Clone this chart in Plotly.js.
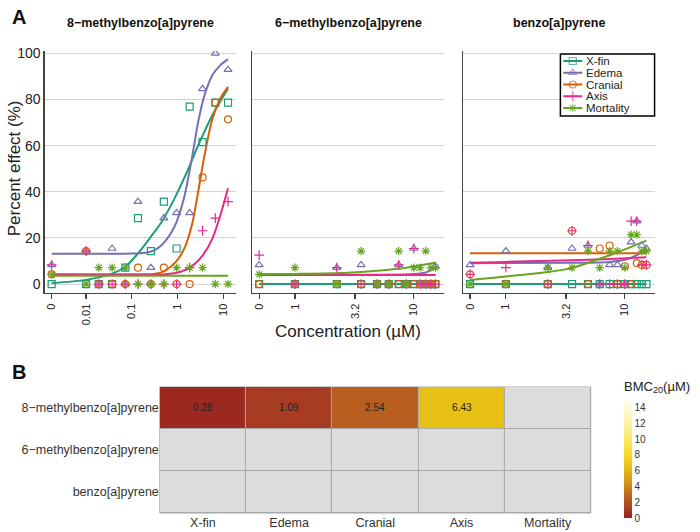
<!DOCTYPE html>
<html>
<head>
<meta charset="utf-8">
<script src="https://cdn.plot.ly/plotly-3.0.1.min.js"></script>
<style>html,body{margin:0;padding:0;background:#fff}#chart{width:700px;height:532px}</style>
</head>
<body>
<div id="chart"></div>
<script>
// ---- Endpoints and compounds ----
const endpoints = ['X-fin', 'Edema', 'Cranial', 'Axis', 'Mortality'];
const compounds = ['8\u2212methylbenzo[a]pyrene', '6\u2212methylbenzo[a]pyrene', 'benzo[a]pyrene'];

// ---- Panel A: observed percent effect per concentration (µM) ----
const dose8m = [0, 0.01, 0.019, 0.037, 0.072, 0.136, 0.26, 0.5, 0.95, 1.83, 3.5, 6.66, 12.6];
const obs8m = {
  'X-fin':     [0, 0, 0, 0, 7.1, 28.6, 14.3, 35.7, 15.4, 76.9, 61.5, 78.6, 78.6],
  'Edema':     [8.3, 14.3, 0, 15.4, 0, 35.7, 7.1, 28.6, 30.8, 30.8, 84.6, 100, 92.9],
  'Cranial':   [4.2, 14.3, 0, 0, 0, 7.1, 0, 7.1, 0, 0, 46.2, 78.6, 71.4],
  'Axis':      [8.3, 14.3, 0, 0, 0, 0, 0, 0, 0, 7.1, 23.1, 28.6, 35.7],
  'Mortality': [4.2, 0, 7.1, 7.1, 7.1, 0, 0, 0, 7.1, 7.1, 7.1, 0, 0]
};

const dose6m = [0, 1, 2.25, 3.6, 4.9, 6.15, 7.45, 8.65, 10, 11.3, 12.6, 13.9, 15.2];
const obs6m = {
  'X-fin':     [0, 0, 0, 0, 0, 0, 0, 0, 0, 0, 0, 0, 0],
  'Edema':     [8.3, 0, 7.1, 8.3, 0, 0, 8.3, 0, 15.4, 0, 0, 0, 7.7],
  'Cranial':   [0, 0, 0, 0, 0, 0, 0, 0, 0, 0, 0, 0, 0],
  'Axis':      [12.5, 0, 7.1, 0, 0, 0, 8.3, 0, 15.4, 0, 0, 0, 0],
  'Mortality': [4.2, 7.1, 0, 14.3, 0, 0, 14.3, 0, 7.1, 7.1, 14.3, 7.1, 7.1]
};

const doseBaP = [0, 1, 2.25, 3.6, 4.9, 6.15, 7.45, 8.65, 10, 11.3, 12.6, 13.9, 15.2];
const obsBaP = {
  'X-fin':     [0, 0, 0, 0, 0, 0, 0, 0, 0, 0, 0, 0, 0],
  'Edema':     [8.3, 14.3, 7.1, 15.4, 16.7, 0, 8.3, 8.3, 0, 18.2, 27.3, 16.7, 15.4],
  'Cranial':   [4.2, 0, 0, 23.1, 0, 15.4, 16.7, 0, 7.7, 0, 9.1, 8.3, 8.3],
  'Axis':      [4.2, 7.1, 0, 23.1, 16.7, 0, 0, 0, 0, 27.3, 27.3, 8.3, 8.3],
  'Mortality': [0, 0, 7.1, 7.1, 14.3, 7.1, 14.3, 14.3, 7.1, 21.4, 21.4, 14.3, 14.3]
};

// ---- Panel A: fitted dose-response curves, sampled points (dose, percent) ----
const fit8m = {
  'X-fin':     {d: [0, 0.01, 0.037, 0.072, 0.136, 0.26, 0.45, 0.85, 1.61, 3.05, 5.77, 12.6],
                y: [0.4, 1.8, 4.5, 7.5, 13.3, 20.5, 27, 37, 48.7, 61.7, 73.3, 84.8]},
  'Edema':     {d: [0, 0.01, 0.1, 0.2, 0.3, 0.45, 0.85, 1.37, 2.05, 2.81, 3.87, 5.77, 8.6, 12.6],
                y: [13.1, 13.1, 13.2, 13.6, 14.5, 16.9, 24.8, 37.1, 54.5, 70.3, 81.9, 90.6, 94.9, 97.5]},
  'Cranial':   {d: [0, 0.1, 0.3, 0.5, 0.9, 1.37, 2.05, 2.81, 3.87, 5.77, 8.6, 12.6],
                y: [4.2, 4.2, 4.4, 5.5, 9.5, 15.0, 25.6, 40.0, 55.9, 71.8, 80.5, 85.5]},
  'Axis':      {d: [0, 0.3, 0.6, 1.17, 2.2, 3.6, 5.77, 8.6, 12.6],
                y: [4.0, 4.0, 4.3, 5.3, 8.2, 12.6, 19.8, 29.9, 41.5]},
  'Mortality': {d: [0, 12.6], y: [3.6, 3.6]}
};
const fit6m = {
  'X-fin':     {d: [0, 15.2], y: [0, 0]},
  'Edema':     {d: [0, 10, 12.6, 15.2], y: [4.2, 4.3, 5.0, 7.5]},
  'Cranial':   {d: [0, 15.2], y: [3.9, 3.9]},
  'Axis':      {d: [0, 15.2], y: [3.9, 3.9]},
  'Mortality': {d: [0, 1, 2.75, 7.35, 10, 15.2], y: [4.3, 4.4, 4.9, 6.6, 7.6, 9.3]}
};
const fitBaP = {
  'X-fin':     {d: [0, 15.2], y: [0, 0]},
  'Edema':     {d: [0, 3.6, 7.45, 10, 12.6, 15.2], y: [9.0, 9.2, 9.6, 10.5, 12.5, 15.5]},
  'Cranial':   {d: [0, 15.2], y: [13.3, 13.3]},
  'Axis':      {d: [0, 1, 3.6, 7.45, 15.2], y: [9.2, 9.6, 10.3, 10.9, 11.6]},
  'Mortality': {d: [0, 1, 2.25, 3.6, 7.45, 10, 15.2], y: [1.7, 3.3, 5.2, 7.0, 12.5, 15.0, 18.8]}
};

// ---- Panel B: BMC20 (µM), rows = compounds, columns = endpoints ----
const bmc20 = [
  [0.28, 1.09, 2.54, 6.43, null],
  [null, null, null, null, null],
  [null, null, null, null, null]
];

// ---- Styling ----
const colors = {'X-fin': '#1B9E77', 'Edema': '#7570B3', 'Cranial': '#D95F02', 'Axis': '#E7298A', 'Mortality': '#66A61E'};
const symbols = {'X-fin': 'square-open', 'Edema': 'triangle-up-open', 'Cranial': 'circle-open', 'Axis': 'cross-thin-open', 'Mortality': 'asterisk-open'};
const FONT = 'Liberation Sans, Arial, Helvetica, sans-serif';
const W = 700, H = 532;

// where the zero-concentration group sits on each log axis
const panels = [
  {dose: dose8m, obs: obs8m, fit: fit8m, xa: 'x', ya: 'y', zeroAt: 0.00177,
   ticks: [0, 0.01, 0.1, 1, 10], ticktext: ['0', '0.01', '0.1', '1', '10']},
  {dose: dose6m, obs: obs6m, fit: fit6m, xa: 'x2', ya: 'y2', zeroAt: 0.5,
   ticks: [0, 1, 3.2, 10], ticktext: ['0', '1', '3.2', '10']},
  {dose: doseBaP, obs: obsBaP, fit: fitBaP, xa: 'x3', ya: 'y3', zeroAt: 0.5,
   ticks: [0, 1, 3.2, 10], ticktext: ['0', '1', '3.2', '10']}
];

const traces = [];
panels.forEach(p => {
  const place = d => (d === 0 ? p.zeroAt : d);
  endpoints.forEach(ep => {
    traces.push({
      type: 'scatter', mode: 'lines', xaxis: p.xa, yaxis: p.ya,
      x: p.fit[ep].d.map(place), y: p.fit[ep].y,
      line: {color: colors[ep], width: 2, shape: 'spline', smoothing: 0.8},
      hoverinfo: 'skip'
    });
  });
  endpoints.forEach(ep => {
    traces.push({
      type: 'scatter', mode: 'markers', xaxis: p.xa, yaxis: p.ya, name: ep,
      x: p.dose.map(place), y: p.obs[ep],
      marker: {symbol: symbols[ep], size: 7, color: colors[ep], line: {color: colors[ep], width: 1.2}}
    });
  });
});

// ---- Key box for the endpoints (own small subplot, units = pixels) ----
const key = {left: 587, top: 52, w: 103, h: 66, rowGap: 11.75, firstRow: 9};
traces.push({
  type: 'scatter', mode: 'lines', xaxis: 'x5', yaxis: 'y5', hoverinfo: 'skip',
  x: [2, key.w - 2, key.w - 2, 2, 2], y: [2, 2, key.h - 2, key.h - 2, 2],
  fill: 'toself', fillcolor: '#fff', line: {color: '#000', width: 1.5}
});
endpoints.forEach((ep, i) => {
  const yy = key.firstRow + i * key.rowGap;
  traces.push({
    type: 'scatter', mode: 'lines+markers', xaxis: 'x5', yaxis: 'y5', hoverinfo: 'skip',
    x: [5, 15, 25], y: [yy, yy, yy],
    line: {color: colors[ep], width: 2},
    marker: {symbol: symbols[ep], size: [0, 7, 0], color: colors[ep], line: {color: colors[ep], width: 1.2}}
  });
});

// Panel B: empty cells in grey, measured cells coloured by BMC20
const missing = bmc20.map(r => r.map(v => (v === null ? 1 : null)));
traces.push({
  type: 'heatmap', xaxis: 'x4', yaxis: 'y4', x: endpoints, y: compounds, z: missing,
  colorscale: [[0, '#DCDCDC'], [1, '#DCDCDC']], showscale: false, xgap: 1, ygap: 1, hoverinfo: 'skip'
});
traces.push({
  type: 'heatmap', xaxis: 'x4', yaxis: 'y4', x: endpoints, y: compounds, z: bmc20,
  zmin: 0, zmax: 15, xgap: 1, ygap: 1,
  colorscale: [
    [0, 'rgb(150,34,30)'], [0.019, 'rgb(156,40,32)'], [0.073, 'rgb(168,60,34)'],
    [0.169, 'rgb(184,94,30)'], [0.3, 'rgb(212,148,28)'], [0.429, 'rgb(232,192,22)'],
    [0.55, 'rgb(246,222,40)'], [0.75, 'rgb(250,240,140)'], [1, 'rgb(255,255,242)']
  ],
  texttemplate: '%{z:.2f}', textfont: {size: 10, color: '#222', family: FONT},
  colorbar: {
    x: 0.922, xanchor: 'left', y: 0.0075, yanchor: 'bottom', len: 160, lenmode: 'pixels',
    thickness: 8, outlinewidth: 0, ticks: '', tickvals: [0, 2, 4, 6, 8, 10, 12, 14],
    tickfont: {size: 10, color: '#333', family: FONT},
    title: {text: 'BMC<sub>20</sub>(\u00b5M)', side: 'top', font: {size: 13, color: '#222', family: FONT}}
  }
});

// ---- Layout ----
const yDom = [0.4492, 0.9041];
const xDoms = [[0.0671, 0.3543], [0.3786, 0.6671], [0.6957, 0.9829]];
const xRanges = [[-2.904, 1.274], [-0.36, 1.256], [-0.3576, 1.2504]];

const layout = {
  width: W, height: H,
  margin: {l: 0, r: 0, t: 0, b: 0},
  paper_bgcolor: '#fff', plot_bgcolor: 'rgba(0,0,0,0)',
  font: {family: FONT, color: '#222'},
  showlegend: false,
  shapes: [
    {type: 'rect', xref: 'x4 domain', yref: 'y4 domain', x0: 0, x1: 1, y0: 0, y1: 1,
     layer: 'below', fillcolor: '#A8A8A8', line: {color: '#A8A8A8', width: 1}}
  ],
  annotations: [
    {text: '<b>A</b>', xref: 'paper', yref: 'paper', x: 10 / W, y: 1 - 17 / H, xanchor: 'left', yanchor: 'middle',
     showarrow: false, font: {size: 20, color: '#111'}},
    {text: '<b>B</b>', xref: 'paper', yref: 'paper', x: 10 / W, y: 1 - 372 / H, xanchor: 'left', yanchor: 'middle',
     showarrow: false, font: {size: 20, color: '#111'}},
    {text: 'Percent effect (%)', xref: 'paper', yref: 'paper', x: 15 / W, y: 1 - 168 / H,
     xanchor: 'center', yanchor: 'middle', textangle: -90, showarrow: false, font: {size: 17, color: '#222'}},
    {text: 'Concentration (\u00b5M)', xref: 'paper', yref: 'paper', x: 366 / W, y: 1 - 331 / H,
     xanchor: 'center', yanchor: 'middle', showarrow: false, font: {size: 17, color: '#222'}}
  ]
};

compounds.forEach((c, i) => {
  layout.annotations.push({
    text: '<b>' + c + '</b>', xref: 'paper', yref: 'paper',
    x: (xDoms[i][0] + xDoms[i][1]) / 2, y: 1 - 23 / H, xanchor: 'center', yanchor: 'middle',
    showarrow: false, font: {size: 12.5, color: '#111'}
  });
});

endpoints.forEach((ep, i) => {
  layout.annotations.push({
    text: ep, xref: 'x5', yref: 'y5', x: 27, y: key.firstRow + i * key.rowGap,
    xanchor: 'left', yanchor: 'middle', showarrow: false,
    font: {size: 11.5, color: '#222'}
  });
});

panels.forEach((p, i) => {
  const xk = i === 0 ? 'xaxis' : 'xaxis' + (i + 1);
  const yk = i === 0 ? 'yaxis' : 'yaxis' + (i + 1);
  layout[xk] = {
    domain: xDoms[i], anchor: p.ya, type: 'log', range: xRanges[i],
    showline: true, linecolor: '#444', linewidth: 1.3, mirror: false,
    ticks: 'outside', ticklen: 5, tickwidth: 1.2, tickcolor: '#444',
    tickvals: p.ticks.map(t => (t === 0 ? p.zeroAt : t)), ticktext: p.ticktext,
    tickangle: -90, tickfont: {size: 11, color: '#222'},
    showgrid: false, zeroline: false
  };
  layout[yk] = {
    domain: yDom, anchor: p.xa, range: [-3.9, 101],
    showline: true, linecolor: '#444', linewidth: 1.3,
    showgrid: true, gridcolor: '#d4d4d4', gridwidth: 1,
    tickvals: [0, 20, 40, 60, 80, 100], ticks: '',
    showticklabels: i === 0, tickfont: {size: 14, color: '#222'},
    zeroline: false
  };
});

layout.xaxis4 = {
  domain: [0.24, 0.887], anchor: 'y4', type: 'category', ticks: '',
  showgrid: false, zeroline: false, showline: false, tickfont: {size: 12.5, color: '#333'}
};
layout.yaxis4 = {
  domain: [0.0357, 0.2726], anchor: 'x4', type: 'category', autorange: 'reversed', ticks: '',
  showgrid: false, zeroline: false, showline: false, tickfont: {size: 12.5, color: '#333'}
};
layout.xaxis5 = {
  domain: [key.left / W, (key.left + key.w) / W], anchor: 'y5', range: [0, key.w],
  visible: false, fixedrange: true
};
layout.yaxis5 = {
  domain: [1 - (key.top + key.h) / H, 1 - key.top / H], anchor: 'x5', range: [key.h, 0],
  visible: false, fixedrange: true
};

Plotly.newPlot('chart', traces, layout, {displayModeBar: false, staticPlot: true});
</script>
</body>
</html>
